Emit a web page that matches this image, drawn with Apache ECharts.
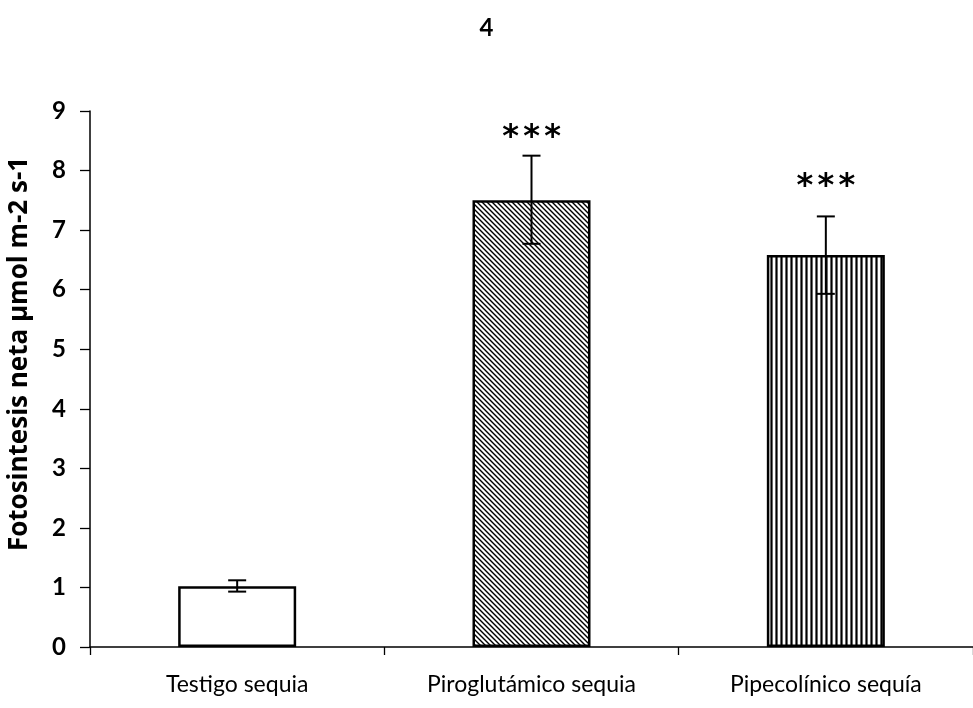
<!DOCTYPE html>
<html><head><meta charset="utf-8">
<script src="https://cdn.jsdelivr.net/npm/echarts@6/dist/echarts.min.js"></script>
<style>html,body{margin:0;padding:0;background:#fff}#c{width:973px;height:708px}</style>
</head><body><div id="c"></div>
<script>
const categories = ['Testigo sequia', 'Piroglutámico sequia', 'Pipecolínico sequía'];
const values = [1.02, 7.5, 6.58];
const errLow = [0.93, 6.77, 5.93];
const errHigh = [1.12, 8.25, 7.23];
const marks = ['', '***', '***'];
const markLevel = [null, 8.68, 7.87];
const yTicks = [0, 1, 2, 3, 4, 5, 6, 7, 8, 9];

function makePattern(type) {
  const c = document.createElement('canvas');
  c.width = 5; c.height = 5;
  const g = c.getContext('2d');
  g.fillStyle = '#fff'; g.fillRect(0, 0, 5, 5);
  g.strokeStyle = '#000'; g.lineWidth = 1.4;
  g.beginPath();
  if (type === 'diag') {
    g.moveTo(-1, -1); g.lineTo(6, 6);
    g.moveTo(-4, 1); g.lineTo(4, 9);
    g.moveTo(1, -4); g.lineTo(9, 4);
  } else {
    g.lineWidth = 2.2;
    g.moveTo(1.5, 0); g.lineTo(1.5, 5);
  }
  g.stroke();
  return c;
}
const fills = ['#ffffff', {image: makePattern('diag'), repeat: 'repeat'}, {image: makePattern('vert'), repeat: 'repeat'}];

const chart = echarts.init(document.getElementById('c'), null, {renderer: 'canvas'});
const font = 'Lato, "Open Sans", sans-serif';
chart.setOption({
  animation: false,
  title: {text: '4', left: 'center', top: 11, textStyle: {fontFamily: font, fontSize: 24, fontWeight: 'bold', color: '#000'}},
  grid: {left: 90, right: 0, top: 111, bottom: 61, containLabel: false, outerBoundsMode: 'none'},
  xAxis: {
    type: 'category', data: categories,
    axisLine: {lineStyle: {color: '#000', width: 1.5}},
    axisTick: {show: true, length: 8, lineStyle: {color: '#000', width: 1.3}},
    axisLabel: {color: '#000', fontFamily: font, fontSize: 23, margin: 26}
  },
  yAxis: {
    type: 'value', min: yTicks[0], max: yTicks[yTicks.length - 1], interval: 1,
    name: 'Fotosintesis neta µmol m-2 s-1', nameLocation: 'middle', nameGap: 57,
    nameTextStyle: {color: '#000', fontFamily: '"Open Sans", sans-serif', fontSize: 26, fontWeight: 'bold', padding: [0, 0, 0, 50]},
    axisLine: {show: true, lineStyle: {color: '#000', width: 1.5}},
    axisTick: {show: true, length: 10, lineStyle: {color: '#000', width: 1.3}},
    axisLabel: {color: '#000', fontFamily: font, fontSize: 24, fontWeight: 'bold', margin: 24},
    splitLine: {show: false}
  },
  series: [
    {
      type: 'bar', barWidth: 118,
      data: values.map((v, i) => ({value: v, itemStyle: {color: fills[i]}})),
      itemStyle: {borderColor: '#000', borderWidth: 2.5}
    },
    {
      type: 'custom',
      data: values.map((v, i) => [i, errLow[i], errHigh[i], markLevel[i] == null ? 0 : markLevel[i]]),
      renderItem: function (params, api) {
        const i = api.value(0);
        const lo = api.coord([i, api.value(1)]);
        const hi = api.coord([i, api.value(2)]);
        const x = lo[0];
        const w = 9;
        const children = [
          {type: 'line', shape: {x1: x, y1: lo[1], x2: x, y2: hi[1]}, style: {stroke: '#000', lineWidth: 2}},
          {type: 'line', shape: {x1: x - w, y1: lo[1], x2: x + w, y2: lo[1]}, style: {stroke: '#000', lineWidth: 2}},
          {type: 'line', shape: {x1: x - w, y1: hi[1], x2: x + w, y2: hi[1]}, style: {stroke: '#000', lineWidth: 2}}
        ];
        if (marks[i]) {
          const my = api.coord([i, api.value(3)])[1];
          const chars = marks[i].split('');
          const step = 21;
          chars.forEach((ch, k) => {
            children.push({type: 'text', style: {text: ch, x: x + (k - (chars.length - 1) / 2) * step, y: my + 8, textAlign: 'center', textVerticalAlign: 'middle', font: 'bold 32px "DejaVu Sans", sans-serif', fill: '#000'}});
          });
        }
        return {type: 'group', children: children};
      },
      z: 10
    }
  ]
});
</script>
</body></html>
